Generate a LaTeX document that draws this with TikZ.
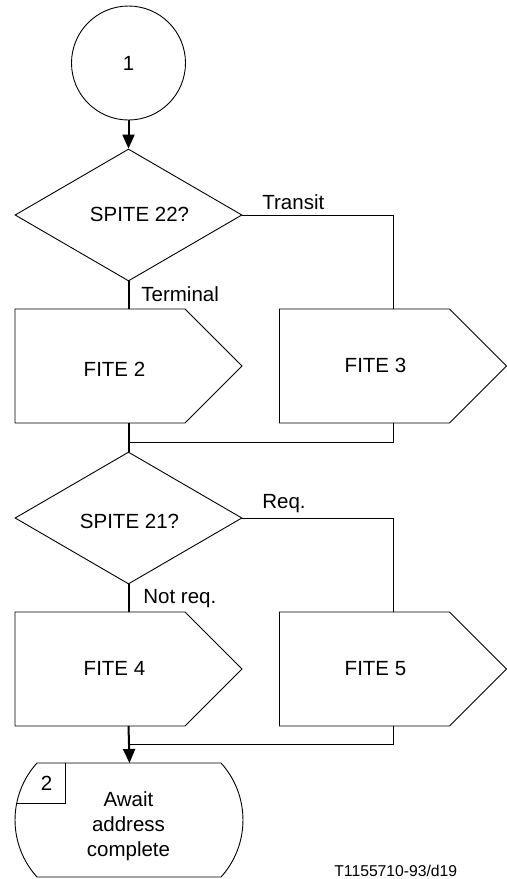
\documentclass[tikz,border=0pt]{standalone}
\usepackage{fontspec}
\setmainfont{Liberation Sans}
\usetikzlibrary{shapes.geometric,arrows.meta}
\begin{document}
\begin{tikzpicture}[x=0.5pt,y=-0.5pt,
  thinline/.style={line width=0.5pt},
  flow/.style={line width=1pt},
  shapeline/.style={draw,line width=0.45pt},
  txt/.style={font=\fontsize{10.25}{12.5}\selectfont,inner sep=0pt},
  lbl/.style={txt,anchor=base west},
  ctr/.style={txt,anchor=base},
  small/.style={font=\fontsize{7.85}{9}\selectfont,inner sep=0pt,anchor=base west},
  arr/.style={-{Triangle[length=7pt,width=6pt]}},
  conn/.style={circle,draw,line width=0.45pt,minimum size=57pt,inner sep=0pt},
  decision/.style={diamond,shapeline,minimum width=113.5pt,minimum height=66pt,inner sep=0pt},
  boxframe/.style={rectangle,minimum width=113.5pt,minimum height=57pt,inner sep=0pt,outer sep=0pt},
  stateframe/.style={rectangle,minimum width=113.5pt,minimum height=57pt,inner sep=0pt,outer sep=0pt}]
\useasboundingbox (0,0) rectangle (507,879);

% connector circle
\node[conn] (c1) at (128.5,63) {};
\node[ctr] (t1) at (128.5,70) {1};

% decisions
\node[decision] (d1) at (128.5,215) {};
\node[ctr] (td1) at (139.5,221) {SPITE 22?};
\node[decision] (d2) at (128.5,518) {};
\node[ctr] (td2) at (129.5,528) {SPITE 21?};

% task boxes (frames + outlines)
\node[boxframe] (f2) at (128.5,366) {};
\node[boxframe] (f3) at (393,366) {};
\node[boxframe] (f4) at (128.5,669) {};
\node[boxframe] (f5) at (393,669) {};
\foreach \b in {f2,f3,f4,f5}{
  \draw[shapeline] (\b.north west) -- ([xshift=-28.5pt]\b.north east) -- (\b.east)
     -- ([xshift=-28.5pt]\b.south east) -- (\b.south west) -- cycle;
}
\node[ctr] (tf2) at (114.5,376) {FITE 2};
\node[ctr] (tf3) at (375.5,372) {FITE 3};
\node[ctr] (tf4) at (114.5,675) {FITE 4};
\node[ctr] (tf5) at (375.5,675) {FITE 5};

% state symbol
\node[stateframe] (st) at (129.5,820) {};
\draw[shapeline] (37,763) -- (221,763)
  .. controls (250.3,795.3) and (250.3,844.7) .. (221,877)
  -- (37,877)
  .. controls (7.7,844.7) and (7.7,795.3) .. (37,763) -- cycle;
\draw[shapeline] (65,763) -- (65,803) -- (17,803);
\node[ctr] (ts) at (46.5,790) {2};
\node[txt,align=center] (tst) at (128.5,826) {Await\\address\\complete};

% join points
\coordinate (j1) at (128.5,442);
\coordinate (j2) at (128.5,744);

% connectors
\draw[flow,arr] (c1.south) -- (d1.north);
\draw[flow] (d1.south) -- (f2.north);
\draw[thinline] (d1.east) -| (f3.north);
\draw[flow] (f2.south) -- (d2.north);
\draw[thinline] (f3.south) |- (j1);
\draw[flow] (d2.south) -- (f4.north);
\draw[thinline] (d2.east) -| (f5.north);
\draw[flow,arr] (f4.south) -- (st.north);
\draw[thinline] (f5.south) |- (j2);

% labels
\node[lbl] (lt) at (262,209) {Transit};
\node[lbl] (lterm) at (141,301) {Terminal};
\node[lbl] (lr) at (262,508) {Req.};
\node[lbl] (lnr) at (143,603) {Not req.};
\node[small] (ref) at (334,876) {T1155710-93/d19};
\end{tikzpicture}
\end{document}
